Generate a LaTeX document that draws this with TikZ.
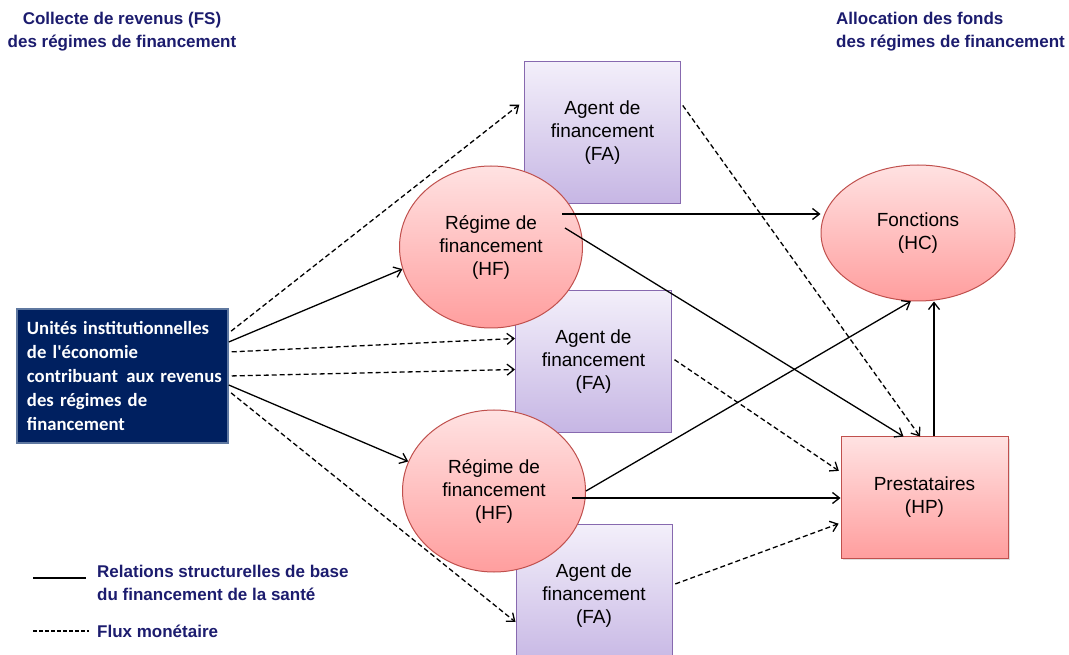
\documentclass[tikz,border=0pt]{standalone}
\usepackage{fontspec}
\setmainfont{Liberation Sans}
\newfontfamily\calfont{Carlito}
\usetikzlibrary{arrows.meta,shapes.geometric,shadows}

\definecolor{headblue}{RGB}{28,28,110}
\definecolor{unitblue}{RGB}{0,32,96}
\definecolor{unitedge}{RGB}{95,120,160}
\definecolor{fatop}{RGB}{243,239,250}
\definecolor{fabot}{RGB}{198,182,228}
\definecolor{faedge}{RGB}{135,105,175}
\definecolor{hftop}{RGB}{255,226,226}
\definecolor{hfbot}{RGB}{255,158,158}
\definecolor{hfedge}{RGB}{192,80,77}

\begin{document}
\begin{tikzpicture}[x=1pt,y=1pt,
  every node/.style={font=\fontsize{19}{23}\selectfont,align=center},
  agent/.style={rectangle,draw=faedge,line width=1pt,top color=fatop,bottom color=fabot,minimum width=156pt,minimum height=142pt},
  regime/.style={ellipse,draw=hfedge,line width=1pt,top color=hftop,bottom color=hfbot,inner sep=0pt,minimum width=183pt,minimum height=162pt},
  unit/.style={rectangle,draw=unitedge,line width=1.5pt,fill=unitblue,text=white,minimum width=211pt,minimum height=134pt,inner xsep=5pt,text width=199pt,align=left,font=\calfont\bfseries\fontsize{18.7}{24}\selectfont},
  head/.style={inner sep=0pt,text=headblue,font=\fontsize{17}{23.5}\selectfont\bfseries},
  base/.style={line width=1.3pt,-{Straight Barb[length=7pt,width=11pt]}},
  flux/.style={base,line width=1.3pt,dash pattern=on 5pt off 3pt,shorten <=3pt}]
  \useasboundingbox (0,0) rectangle (1069,654);

  % titres
  \node[head] (fshead) at (122,622.5) {Collecte de revenus (FS)\\des régimes de financement};
  \node[head,anchor=west,align=left] (hchead) at (836,622.5) {Allocation des fonds\\des régimes de financement};

  % agents de financement
  \node[agent] (fa1) at (602.5,521) {Agent de\\financement\\(FA)};
  \node[agent] (fa2) at (593.5,292.5) {Agent de\\financement\\(FA)};
  \node[agent] (fa3) at (594,58) {Agent de\\financement\\(FA)};

  % regimes, fonctions, prestataires
  \node[regime] (hf1) at (491,407) {Régime de\\financement\\(HF)};
  \node[regime] (hf2) at (494,163) {Régime de\\financement\\(HF)};
  \node[regime,minimum width=194pt,minimum height=136pt] (hc) at (918,421) {Fonctions\\(HC)};
  \node[rectangle,draw=hfedge,line width=1pt,top color=hftop,bottom color=hfbot,
        minimum width=167pt,minimum height=121pt,
        drop shadow={opacity=0.25,shadow xshift=2pt,shadow yshift=-2pt}] (hp) at (924.5,156.5) {Prestataires\\(HP)};

  \node[unit] (fs) at (122.5,278) {\hspace*{4pt}Unités institutionnelles\\\hspace*{4pt}de l'économie\\\hspace*{4pt}contribuant\hspace{2pt} aux revenus\\\hspace*{4pt}des régimes de\\\hspace*{4pt}financement};

  % relations de base
  \draw[base] ([yshift=34pt]fs.east) -- (hf1.194);
  \draw[base] ([yshift=-9pt]fs.east) -- (hf2.161);
  \coordinate (hf1a) at ([shift={(71pt,33pt)}]hf1.center);
  \draw[base] (hf1a) -- (hf1a -| hc.west);
  \draw[base] ([shift={(74pt,19pt)}]hf1.center) -- ([xshift=-21pt]hp.north);
  \draw[base] (hf2.east) -- (hc.264);
  \coordinate (hf2a) at ([shift={(78pt,-7pt)}]hf2.center);
  \draw[base] (hf2a) -- (hf2a -| hp.west);
  \coordinate (hpa) at ([xshift=9.5pt]hp.north);
  \draw[base] (hpa) -- (hpa |- hc.south);

  % flux monetaires
  \draw[flux,shorten >=6pt] ([yshift=43pt]fs.east) -- ([yshift=32pt]fa1.west);
  \draw[flux] ([yshift=24pt]fs.east) -- ([yshift=23pt]fa2.west);
  \draw[flux] (fs.east) -- ([yshift=-8pt]fa2.west);
  \draw[flux] ([yshift=-15pt]fs.east) -- ([yshift=-26pt]fa3.west);
  \draw[flux] ([yshift=30pt]fa1.east) -- ([xshift=-4.5pt]hp.north);
  \draw[flux,shorten >=2pt] ([yshift=3.5pt]fa2.east) -- ([yshift=25.5pt]hp.west);
  \draw[flux,shorten >=2pt] ([yshift=11pt]fa3.east) -- ([yshift=-25.5pt]hp.west);

  % legende
  \node[head,anchor=west,align=left] (legbase) at (97,71) {Relations structurelles de base\\du financement de la santé};
  \node[head,anchor=west] (legflux) at (97,23) {Flux monétaire};
  \draw[line width=1.3pt] (33,76) -- (86,76);
  \draw[line width=1.2pt,dash pattern=on 3.5pt off 2.5pt] (33,23) -- (89,23);
\end{tikzpicture}
\end{document}
